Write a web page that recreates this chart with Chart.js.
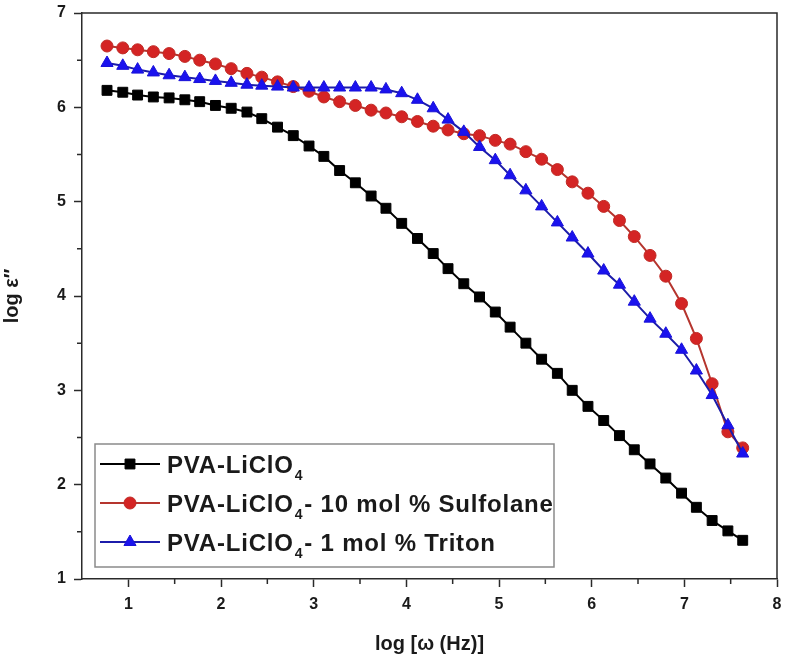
<!DOCTYPE html>
<html>
<head>
<meta charset="utf-8">
<script src="https://cdn.jsdelivr.net/npm/chart.js@4.4.0/dist/chart.umd.min.js"></script>
<style>
  html, body { margin: 0; padding: 0; background: #fff; }
  #wrap { width: 787px; height: 663px; }
</style>
</head>
<body>
<div id="wrap"><canvas id="chart" width="787" height="663"></canvas></div>
<script>
// log(omega) - same frequency grid for all three samples
var logFreq = [0.77, 0.94, 1.10, 1.27, 1.44, 1.61, 1.77, 1.94, 2.11, 2.28,
               2.44, 2.61, 2.78, 2.95, 3.11, 3.28, 3.45, 3.62, 3.78, 3.95,
               4.12, 4.29, 4.45, 4.62, 4.79, 4.96, 5.12, 5.29, 5.46, 5.63,
               5.79, 5.96, 6.13, 6.30, 6.46, 6.63, 6.80, 6.97, 7.13, 7.30,
               7.47, 7.63];

// log eps'' readings
var pvaLiClO4 = [6.18, 6.16, 6.13, 6.11, 6.10, 6.08, 6.06, 6.02, 5.99, 5.95,
                 5.88, 5.79, 5.70, 5.59, 5.48, 5.33, 5.20, 5.06, 4.93, 4.77,
                 4.61, 4.45, 4.29, 4.13, 3.99, 3.83, 3.67, 3.50, 3.33, 3.18,
                 3.00, 2.83, 2.68, 2.52, 2.37, 2.22, 2.07, 1.91, 1.76, 1.62,
                 1.51, 1.41];
var sulfolane = [6.65, 6.63, 6.61, 6.59, 6.57, 6.54, 6.50, 6.46, 6.41, 6.36,
                 6.32, 6.27, 6.22, 6.17, 6.11, 6.06, 6.02, 5.97, 5.94, 5.90,
                 5.85, 5.80, 5.76, 5.72, 5.70, 5.65, 5.61, 5.53, 5.45, 5.34,
                 5.21, 5.09, 4.95, 4.80, 4.63, 4.43, 4.21, 3.92, 3.55, 3.07,
                 2.56, 2.39];
var triton = [6.47, 6.44, 6.40, 6.37, 6.34, 6.32, 6.30, 6.28, 6.26, 6.24,
              6.23, 6.22, 6.21, 6.21, 6.21, 6.21, 6.21, 6.21, 6.19, 6.15,
              6.08, 5.99, 5.87, 5.74, 5.58, 5.44, 5.28, 5.12, 4.95, 4.78,
              4.62, 4.45, 4.27, 4.12, 3.94, 3.76, 3.60, 3.43, 3.21, 2.95,
              2.63, 2.33];

var seriesLabels = ['PVA-LiClO₄', 'PVA-LiClO₄- 10 mol % Sulfolane', 'PVA-LiClO₄- 1 mol % Triton'];
var xTicks = [1, 2, 3, 4, 5, 6, 7, 8];
var yTicks = [1, 2, 3, 4, 5, 6, 7];
var xMinor = [1.5, 2.5, 3.5, 4.5, 5.5, 6.5, 7.5];
var yMinor = [1.5, 2.5, 3.5, 4.5, 5.5, 6.5];

var axisColor = '#2a2a2a';
var fontFam = '"Liberation Sans", Arial, Helvetica, sans-serif';

function pts(ys) {
  return ys.map(function(y, i) { return { x: logFreq[i], y: y }; });
}

// top/right frame and short minor ticks
var framePlugin = {
  id: 'frame',
  afterDraw: function(chart) {
    var ctx = chart.ctx, a = chart.chartArea;
    var xs = chart.scales.x, ys = chart.scales.y;
    ctx.save();
    ctx.strokeStyle = axisColor;
    ctx.lineWidth = 1.5;
    ctx.beginPath();
    ctx.moveTo(a.left, a.top);
    ctx.lineTo(a.right, a.top);
    ctx.lineTo(a.right, a.bottom);
    xMinor.forEach(function(v) {
      var px = xs.getPixelForValue(v);
      ctx.moveTo(px, a.bottom);
      ctx.lineTo(px, a.bottom + 5);
    });
    yMinor.forEach(function(v) {
      var py = ys.getPixelForValue(v);
      ctx.moveTo(a.left, py);
      ctx.lineTo(a.left - 5, py);
    });
    ctx.stroke();
    ctx.restore();
  }
};

// boxed legend inside the plot, with subscript 4
var legendPlugin = {
  id: 'boxLegend',
  afterDraw: function(chart) {
    var ctx = chart.ctx, a = chart.chartArea;
    var bx = a.left + 13, by = a.bottom - 135, bw = 459, bh = 123;
    ctx.save();
    ctx.fillStyle = '#fff';
    ctx.fillRect(bx, by, bw, bh);
    ctx.strokeStyle = '#8a8a8a';
    ctx.lineWidth = 1.5;
    ctx.strokeRect(bx, by, bw, bh);

    chart.data.datasets.forEach(function(ds, i) {
      var ry = by + 20 + i * 39;
      ctx.strokeStyle = ds.borderColor;
      ctx.lineWidth = 2;
      ctx.beginPath();
      ctx.moveTo(bx + 5, ry);
      ctx.lineTo(bx + 65, ry);
      ctx.stroke();

      ctx.fillStyle = ds.pointBackgroundColor;
      ctx.strokeStyle = ds.pointBorderColor;
      ctx.lineWidth = 1;
      Chart.helpers.drawPoint(ctx, { pointStyle: ds.pointStyle, radius: ds.pointRadius, rotation: 0, borderWidth: 1 }, bx + 35, ry);

      var parts = ds.label.split('₄');
      var tx = bx + 72, base = ry + 8.5;
      ctx.fillStyle = '#1a1a1a';
      ctx.textBaseline = 'alphabetic';
      ctx.textAlign = 'left';
      ctx.letterSpacing = '0.8px';
      ctx.font = 'bold 24px ' + fontFam;
      ctx.fillText(parts[0], tx, base);
      tx += ctx.measureText(parts[0]).width + 1;
      ctx.font = 'bold 14px ' + fontFam;
      ctx.fillText('4', tx, base + 7);
      tx += ctx.measureText('4').width + 1;
      ctx.font = 'bold 24px ' + fontFam;
      if (parts[1]) ctx.fillText(parts[1], tx, base);
    });
    ctx.restore();
  }
};

new Chart(document.getElementById('chart'), {
  type: 'line',
  data: {
    datasets: [
      {
        label: seriesLabels[0],
        data: pts(pvaLiClO4),
        borderColor: '#000000',
        borderWidth: 2,
        pointStyle: 'rect',
        pointRadius: 7,
        pointBackgroundColor: '#000000',
        pointBorderColor: '#000000',
        pointBorderWidth: 1,
        order: 2
      },
      {
        label: seriesLabels[1],
        data: pts(sulfolane),
        borderColor: '#b5352e',
        borderWidth: 2,
        pointStyle: 'circle',
        pointRadius: 6,
        pointBackgroundColor: '#d42424',
        pointBorderColor: '#c02a25',
        pointBorderWidth: 1,
        order: 1
      },
      {
        label: seriesLabels[2],
        data: pts(triton),
        borderColor: '#1c1caa',
        borderWidth: 2,
        pointStyle: 'triangle',
        pointRadius: 7,
        pointBackgroundColor: '#1a12ee',
        pointBorderColor: '#1a12d8',
        pointBorderWidth: 1,
        order: 0
      }
    ]
  },
  options: {
    responsive: false,
    animation: false,
    layout: { padding: { left: 0, right: 10, top: 13, bottom: 0 } },
    plugins: {
      legend: { display: false },
      tooltip: { enabled: false }
    },
    elements: { line: { tension: 0 } },
    scales: {
      x: {
        type: 'linear',
        min: 0.5,
        max: 8,
        afterBuildTicks: function(s) { s.ticks = xTicks.map(function(v) { return { value: v }; }); },
        afterFit: function(s) { s.height = 84; s.paddingLeft = 0; s.paddingRight = 0; },
        grid: { display: true, drawOnChartArea: false, drawTicks: true, tickLength: 8, tickColor: axisColor, tickWidth: 1.5 },
        border: { display: true, color: axisColor, width: 1.5 },
        ticks: {
          padding: 8,
          color: '#1a1a1a',
          font: { family: fontFam, size: 16, weight: 'bold' },
          callback: function(v) { return v; }
        },
        title: {
          display: true,
          text: 'log [ω (Hz)]',
          color: '#1a1a1a',
          font: { family: fontFam, size: 20, weight: 'bold' },
          padding: { top: 4, bottom: 7 }
        }
      },
      y: {
        type: 'linear',
        min: 1,
        max: 7,
        afterBuildTicks: function(s) { s.ticks = yTicks.map(function(v) { return { value: v }; }); },
        afterFit: function(s) { s.width = 82; s.paddingTop = 0; s.paddingBottom = 0; },
        grid: { display: true, drawOnChartArea: false, drawTicks: true, tickLength: 8, tickColor: axisColor, tickWidth: 1.5 },
        border: { display: true, color: axisColor, width: 1.5 },
        ticks: {
          padding: 8,
          color: '#1a1a1a',
          font: { family: fontFam, size: 16, weight: 'bold' },
          callback: function(v) { return v; }
        },
        title: {
          display: true,
          text: 'log ε″',
          color: '#1a1a1a',
          font: { family: fontFam, size: 20, weight: 'bold' },
          padding: { top: 0, bottom: 0 }
        }
      }
    }
  },
  plugins: [framePlugin, legendPlugin]
});
</script>
</body>
</html>
